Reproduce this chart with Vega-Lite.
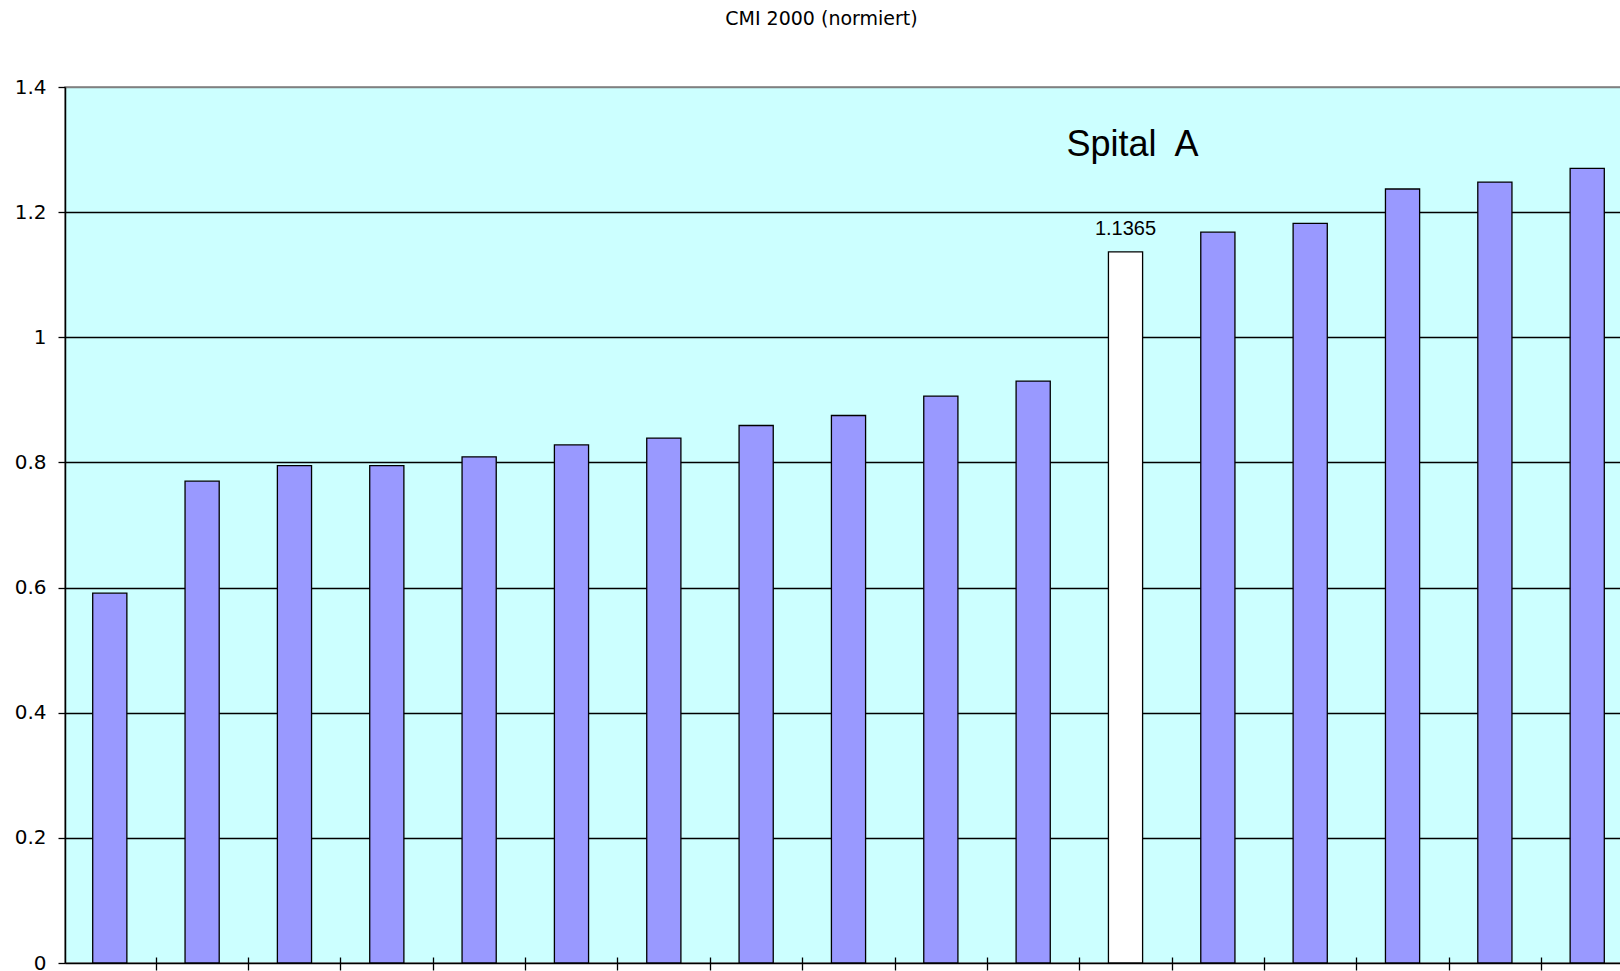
{
  "$schema": "https://vega.github.io/schema/vega-lite/v6.json",
  "autosize": {"type": "none"},
  "padding": {"left": 65, "top": 87, "right": 0, "bottom": 8},
  "width": 1567,
  "height": 876,
  "background": "#FFFFFF",
  "config": {
    "view": {"fill": "#CCFFFF", "stroke": "#808080", "strokeWidth": 1.5}
  },
  "title": {
    "text": "CMI 2000 (normiert)",
    "font": "DejaVu Sans",
    "fontSize": 19,
    "fontWeight": "normal",
    "color": "#000000",
    "anchor": "middle",
    "frame": "group",
    "baseline": "alphabetic",
    "offset": 33,
    "dx": -27
  },
  "data": {
    "values": [
      {"rank": 1, "cmi": 0.591, "spital": "andere"},
      {"rank": 2, "cmi": 0.770, "spital": "andere"},
      {"rank": 3, "cmi": 0.795, "spital": "andere"},
      {"rank": 4, "cmi": 0.795, "spital": "andere"},
      {"rank": 5, "cmi": 0.809, "spital": "andere"},
      {"rank": 6, "cmi": 0.828, "spital": "andere"},
      {"rank": 7, "cmi": 0.839, "spital": "andere"},
      {"rank": 8, "cmi": 0.859, "spital": "andere"},
      {"rank": 9, "cmi": 0.875, "spital": "andere"},
      {"rank": 10, "cmi": 0.906, "spital": "andere"},
      {"rank": 11, "cmi": 0.930, "spital": "andere"},
      {"rank": 12, "cmi": 1.1365, "spital": "Spital A"},
      {"rank": 13, "cmi": 1.168, "spital": "andere"},
      {"rank": 14, "cmi": 1.182, "spital": "andere"},
      {"rank": 15, "cmi": 1.237, "spital": "andere"},
      {"rank": 16, "cmi": 1.248, "spital": "andere"},
      {"rank": 17, "cmi": 1.270, "spital": "andere"}
    ]
  },
  "encoding": {
    "x": {
      "field": "rank",
      "type": "ordinal",
      "scale": {"paddingInner": 0.63, "paddingOuter": 0.3},
      "axis": {
        "title": null,
        "labels": false,
        "domain": false,
        "tickOffset": 46,
        "tickSize": 13,
        "tickWidth": 1.3,
        "tickColor": "#000000",
        "offset": -6,
        "grid": false
      }
    },
    "y": {
      "field": "cmi",
      "type": "quantitative",
      "scale": {"domain": [0, 1.4], "nice": false},
      "axis": {
        "title": null,
        "values": [0, 0.2, 0.4, 0.6, 0.8, 1.0, 1.2, 1.4],
        "format": "~g",
        "labelFont": "DejaVu Sans",
        "labelFontSize": 20,
        "labelColor": "#000000",
        "labelPadding": 12,
        "tickSize": 7,
        "tickWidth": 1.3,
        "tickColor": "#000000",
        "domainColor": "#000000",
        "domainWidth": 1.5,
        "grid": true,
        "gridColor": {"condition": {"test": "datum.value >= 1.39", "value": "#808080"}, "value": "#000000"},
        "gridWidth": 1.3,
        "gridOpacity": 1
      }
    }
  },
  "layer": [
    {
      "mark": {"type": "bar", "stroke": "#000000", "strokeWidth": 1.3},
      "encoding": {
        "color": {
          "field": "spital",
          "type": "nominal",
          "scale": {"domain": ["andere", "Spital A"], "range": ["#9999FF", "#FFFFFF"]},
          "legend": null
        },
        "fillOpacity": {"value": 1}
      }
    },
    {
      "transform": [{"filter": "datum.spital == 'Spital A'"}],
      "mark": {"type": "text", "font": "Liberation Sans", "fontSize": 20, "color": "#000000", "baseline": "alphabetic", "align": "center", "dy": -17},
      "encoding": {
        "text": {"field": "cmi", "type": "quantitative", "format": ".4f"}
      }
    },
    {
      "transform": [{"filter": "datum.spital == 'Spital A'"}],
      "mark": {"type": "text", "font": "Liberation Sans", "fontSize": 36, "color": "#000000", "baseline": "alphabetic", "align": "left", "dy": -96, "dx": -59},
      "encoding": {
        "text": {"value": "Spital\u00a0 A"}
      }
    }
  ]
}
